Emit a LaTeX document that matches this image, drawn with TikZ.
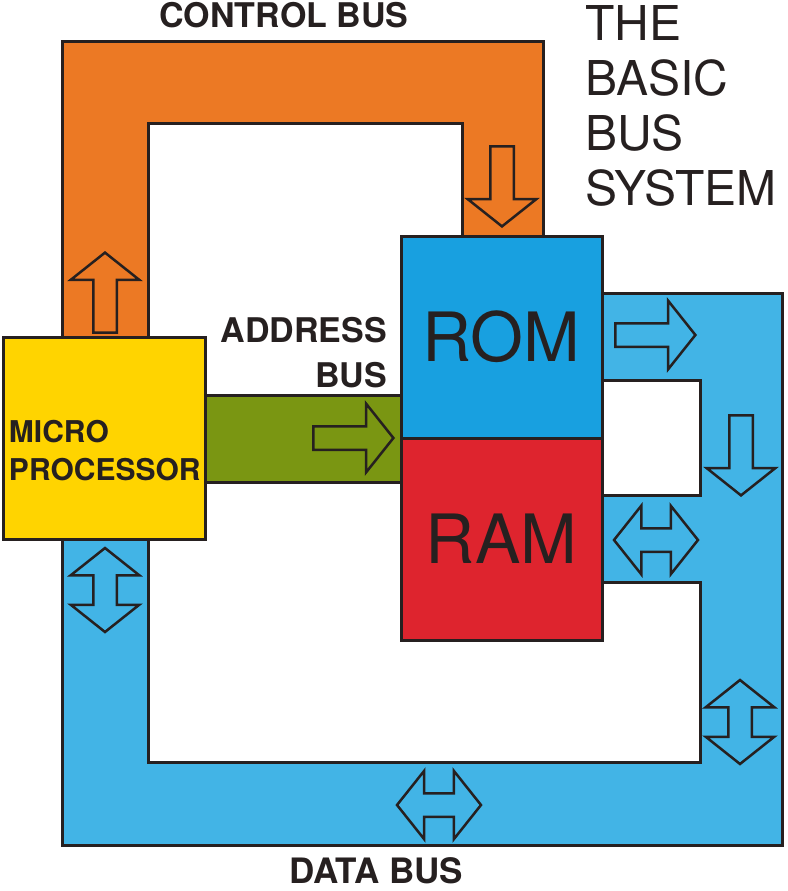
\documentclass[tikz,border=0pt]{standalone}
\usepackage{fontspec}
\setmainfont{TeX Gyre Heros}
\usetikzlibrary{shapes.arrows,backgrounds}

\definecolor{ctrlorange}{RGB}{236,121,36}
\definecolor{cpuyellow}{RGB}{255,212,0}
\definecolor{addrgreen}{RGB}{122,150,18}
\definecolor{romblue}{RGB}{24,160,224}
\definecolor{ramred}{RGB}{222,36,46}
\definecolor{datablue}{RGB}{66,180,230}
\definecolor{ink}{RGB}{38,32,32}

\begin{document}
\begin{tikzpicture}[x=1pt, y=-1pt, line join=miter,
    unit/.style={draw=ink, line width=3pt, inner sep=0pt, text=ink},
    bus/.style={draw=ink, line width=3pt},
    busname/.style={font=\bfseries\fontsize{34}{45}\selectfont, text=ink, inner sep=0pt},
    onearrow/.style={single arrow, draw=ink, line width=2.5pt, inner xsep=0pt, inner ysep=10.5pt,
        single arrow head extend=22.5pt, single arrow tip angle=103, minimum height=80pt},
    twoarrow/.style={double arrow, draw=ink, line width=2.5pt, inner xsep=0pt, inner ysep=10.5pt,
        double arrow head extend=22.5pt, double arrow tip angle=103, minimum height=84pt}]

    \useasboundingbox (0,0) rectangle (787,891);

    \node[unit, fill=cpuyellow, minimum width=202pt, minimum height=202pt, align=left, text width=190pt,
        text depth=14pt, font=\bfseries\fontsize{30}{38}\selectfont] (cpu) at (104,438) {MICRO\\PROCESSOR};

    \node[unit, fill=romblue, minimum width=201pt, minimum height=202pt,
        font=\fontsize{68}{68}\selectfont] (rom) at (501.5,337) {ROM};

    \node[unit, fill=ramred, minimum width=201pt, minimum height=202pt,
        font=\fontsize{68}{68}\selectfont] (ram) at (501.5,539) {RAM};

    % the three buses behind the units
    \begin{scope}[on background layer]
        \draw[bus, fill=ctrlorange] (62,337) -- (62,42) -- (543,42) -- (543,236) -- (462,236)
            -- (462,123) -- (148,123) -- (148,337) -- cycle;
        \draw[bus, fill=addrgreen] (205,395) rectangle (401,482);
        \draw[bus, fill=datablue] (62,539) -- (62,845) -- (782,845) -- (782,293) -- (602,293)
            -- (602,380) -- (700,380) -- (700,495) -- (602,495) -- (602,582) -- (700,582)
            -- (700,762) -- (148,762) -- (148,539) -- cycle;
    \end{scope}

    \node[onearrow, fill=ctrlorange, rotate=90, anchor=tip] (cup) at (105,251) {};
    \node[onearrow, fill=ctrlorange, rotate=-90, anchor=tip] (cdown) at (502,228) {};
    \node[onearrow, fill=addrgreen, anchor=tip] (aright) at (395,438) {};
    \node[onearrow, fill=datablue, anchor=tip] (dright) at (697,335) {};
    \node[onearrow, fill=datablue, rotate=-90, anchor=tip] (ddown) at (741,497) {};
    \node[twoarrow, fill=datablue] (dram) at (656,540) {};
    \node[twoarrow, fill=datablue, rotate=90] (dcpu) at (105,590) {};
    \node[twoarrow, fill=datablue, rotate=90] (dside) at (740,722) {};
    \node[twoarrow, fill=datablue] (dbottom) at (439,805) {};

    \node[busname] (ctrl) at (284,15) {CONTROL BUS};
    \node[busname, align=right, anchor=north east] (addr) at (387,317) {ADDRESS\\BUS};
    \node[busname, font=\bfseries\fontsize{35}{45}\selectfont] (data) at (376,871) {DATA BUS};
    \node[font=\fontsize{48}{55}\selectfont, text=ink, align=left, anchor=north west,
        inner sep=0pt] (title) at (585,5) {THE\\BASIC\\BUS\\SYSTEM};

\end{tikzpicture}
\end{document}
